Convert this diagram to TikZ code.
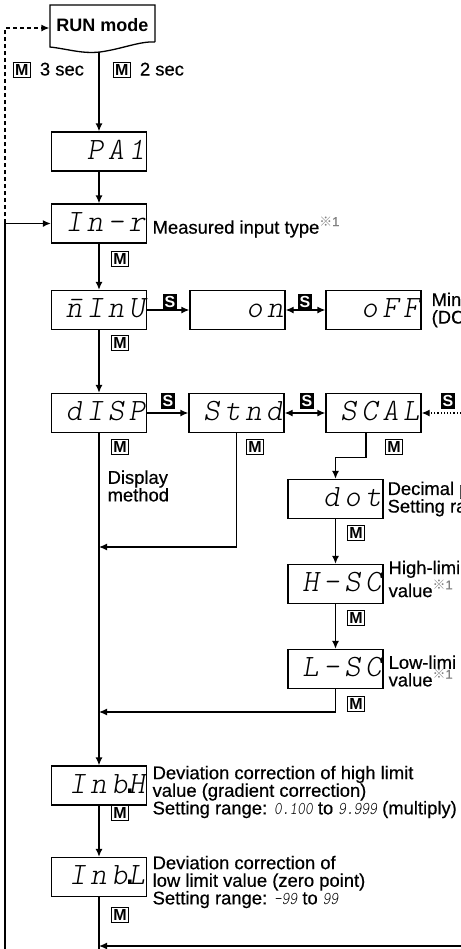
\documentclass[tikz,border=0pt]{standalone}
\usepackage{fontspec}
\setmainfont{Liberation Sans}[UprightFeatures={FakeBold=0.5}]
\newfontfamily\segfont{lmmonolt10-oblique}[Extension=.otf, LetterSpace=15]
\newfontfamily\segtext{lmmonolt10-oblique}[Extension=.otf, FakeStretch=0.82]
\newfontfamily\segdotfont{Liberation Mono}
\newfontfamily\cjk{Noto Sans CJK JP}
\usetikzlibrary{arrows.meta}

\newcommand{\keyM}{{\setlength{\fboxsep}{0.7pt}\setlength{\fboxrule}{0.55pt}\fbox{\fontsize{8}{8}\selectfont\bfseries M}}}
\newcommand{\keyS}{{\setlength{\fboxsep}{1pt}\colorbox{black}{\fontsize{8}{8}\selectfont\bfseries\color{white}S}}}
\newcommand{\refone}{\textsuperscript{\color{black!50}{\cjk ※}1}}
\newcommand{\segin}[1]{{\segtext\fontsize{9}{8}\selectfont #1}}
\newcommand{\segdot}{\kern-.22em{\segdotfont .}\kern-.34em}

\begin{document}
\begin{tikzpicture}[x=0.5pt, y=-0.5pt, line width=0.65pt, >={Latex[length=4pt,width=3.5pt]},
	font=\fontsize{9.2}{8.8}\selectfont,
	lcd/.style={draw, text width=46pt, inner xsep=0.75pt, inner ysep=0pt, minimum height=19.5pt, align=right, text height=9.5pt, text depth=2pt, font=\segfont\fontsize{15.5}{15.5}\selectfont},
	desc/.style={anchor=west, align=left, inner sep=0pt},
	key/.style={inner sep=0pt},
	runbox/.style={minimum width=52.5pt, minimum height=23pt, inner sep=0pt, text height=9pt, text depth=5.6pt, font=\bfseries\fontsize{9}{9}\selectfont}]
	
	\useasboundingbox (0,0) rectangle (461,949);
	\clip (0,0) rectangle (461,949);
	
	% RUN mode
	\node[runbox] (run) at (102.5,28) {RUN mode};
	\draw (155,42) -- (155,5) -- (50,5) -- (50,47) .. controls (68,49) and (82,54) .. (100,52) .. controls (122,49) and (140,41) .. (155,42);
	\node[desc] (t3) at (12,70) {\keyM\hspace{4.5pt}3 sec};
	\node[desc] (t2) at (112,70) {\keyM\hspace{4.5pt}2 sec};
	
	% displays
	\node[lcd] (pa) at (99,151.5) {PA1};
	\node[lcd] (inr) at (99,223.5) {In-r};
	\node[lcd] (minu) at (99,310) {\=nInU};
	\node[lcd] (on) at (237.5,310) {on};
	\node[lcd] (off) at (373.5,310) {oFF};
	\node[lcd] (dsp) at (99,413) {dISP};
	\node[lcd] (stnd) at (236.5,413) {Stnd};
	\node[lcd] (scal) at (373.5,413) {SCAL};
	\node[lcd] (dot) at (335.5,499) {dot};
	\node[lcd] (hsc) at (335.5,584) {H-SC};
	\node[lcd] (lsc) at (335.5,669) {L-SC};
	\node[lcd] (inbh) at (99,785.5) {Inb\segdot H};
	\node[lcd] (inbl) at (99,877) {Inb\segdot L};
	
	% texts
	\node[desc] (inrtxt) at (152,227) {Measured input type\refone};
	\node[desc] (minutxt) at (431,310) {Min\\(DC};
	\node[desc] (dsptxt) at (107,486) {Display\\method};
	\node[desc] (dottxt) at (387,499) {Decimal p\\Setting ra};
	\node[desc] (hsctxt) at (388,579) {High-limi\\value\refone};
	\node[desc] (lsctxt) at (388,671) {Low-limi\\value\refone};
	\node[desc] (inbhtxt) at (152,792) {Deviation correction of high limit\\value (gradient correction)\\Setting range: \segin{0.100} to \segin{9.999} (multiply)};
	\node[desc] (inbltxt) at (152,882) {Deviation correction of\\low limit value (zero point)\\Setting range: \segin{-99} to \segin{99}};
	
	% keys
	\foreach \n/\x/\y in {kinr/120/259, kminu/120/343, kdsp/120/447, kstnd/255/447, kscal/394/447, kdot/356/533, khsc/356/618, klsc/356/704, kinbh/120/813, kinbl/120/915}
		\node[key] (\n) at (\x,\y) {\keyM};
	\foreach \n/\x/\y in {s1/170/302, s2/305/302, s3/168/401, s4/307/401, s5/448/401}
		\node[key] (\n) at (\x,\y) {\keyS};
	
	\coordinate (dashend) at (5,223);
	\coordinate (loopend) at (5,949);
	\coordinate (dotsrc) at (461,413);
	\coordinate (j1) at (99,547);
	\coordinate (j2) at (99,712);
	\coordinate (j3) at (99,946);
	\coordinate (botsrc) at (461,946);
	\coordinate (bot) at (99,949);
	
	\draw[dash pattern=on 2pt off 1.5pt, ->] (dashend) |- (run.west);
	\draw[->] (loopend) |- (inr.west);
	\draw[->] (pa.north |- run.south) -- (pa);
	\draw[->] (pa) -- (inr);
	\draw[->] (inr) -- (minu);
	\draw[->] (minu) -- (on);
	\draw[<->] (on) -- (off);
	\draw[->] (minu) -- (dsp);
	\draw[->] (dsp) -- (stnd);
	\draw[<->] (stnd) -- (scal);
	\draw[->, dash pattern=on 0.6pt off 1pt] (dotsrc) -- (scal);
	\draw[->] (dsp) -- (inbh);
	\draw[->] (stnd.south) |- (j1);
	\draw[->] ([xshift=-3.75pt]scal.south) -- ++(0,24) -| (dot.north);
	\draw[->] (dot) -- (hsc);
	\draw[->] (hsc) -- (lsc);
	\draw[->] (lsc.south) |- (j2);
	\draw[->] (inbh) -- (inbl);
	\draw (inbl) -- (bot);
	\draw[->] (botsrc) -- (j3);
\end{tikzpicture}
\end{document}
